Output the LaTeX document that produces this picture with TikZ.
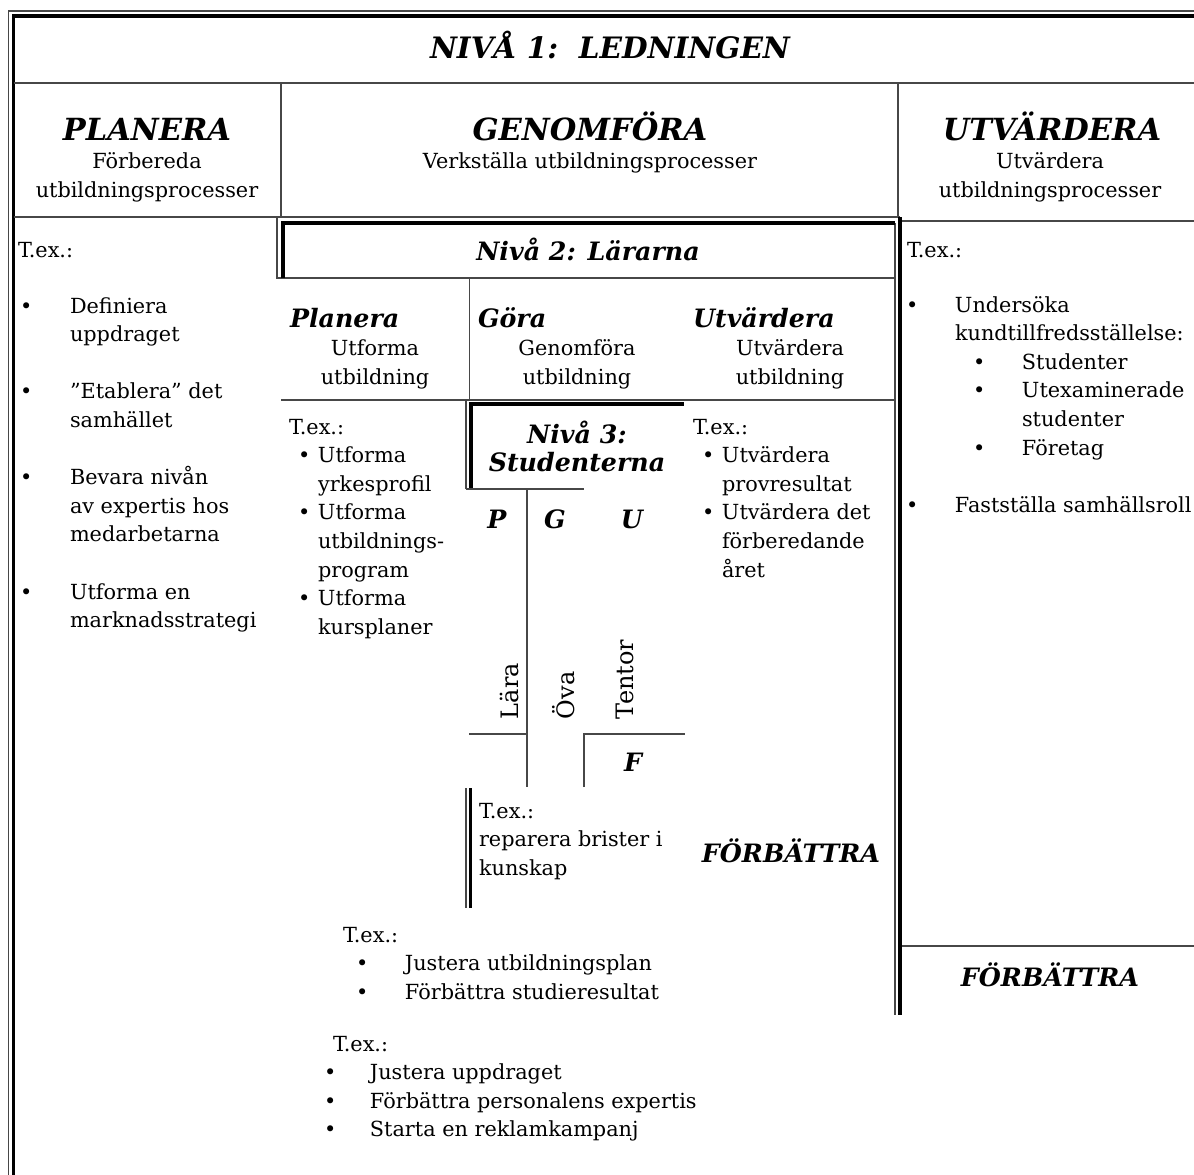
\documentclass[tikz,border=0pt]{standalone}
\usepackage{fontspec}
\setmainfont{DejaVu Serif}
\newcommand\fBody{\fontsize{20.8}{28.6}\selectfont}
\newcommand\fSub{\fontsize{20.8}{29.5}\selectfont}
\newcommand\fTurn{\fontsize{24}{28.6}\selectfont}
\newcommand\fHead{\fontsize{30.5}{34}\selectfont\bfseries\itshape}
\newcommand\fTitle{\fontsize{29.5}{34}\selectfont\bfseries\itshape}
\newcommand\fMid{\fontsize{25.3}{28}\selectfont\bfseries\itshape}
\begin{document}
\begin{tikzpicture}[x=1pt,y=-1pt,
  rule/.style={line width=1.1pt, draw=black!72},
  heavy/.style={line width=3.4pt, draw=black},
  lbl/.style={inner sep=0pt, outer sep=0pt, font=\fBody},
  sub/.style={inner sep=0pt, outer sep=0pt, font=\fSub, anchor=base},
  head/.style={inner sep=0pt, outer sep=0pt, font=\fHead, anchor=base},
  mid/.style={inner sep=0pt, outer sep=0pt, font=\fMid, anchor=base},
  turned/.style={inner sep=0pt, outer sep=0pt, font=\fTurn, rotate=90, anchor=base west}]
\fill[white] (0,0) rectangle (1194,1175);
\useasboundingbox (0,0) rectangle (1194,1175);

% outer double frame
\draw[rule] (8.5,1175) -- (8.5,11) -- (1194,11);
\draw[heavy] (13.7,1175) -- (13.7,16) -- (1194,16);
\draw[rule] (13.7,83) -- (1194,83);

% level 1 columns
\draw[rule] (281,83) -- (281,217);
\draw[rule] (898,83) -- (898,217);
\draw[rule] (13.7,217) -- (900,217);
\draw[rule] (902,221) -- (1194,221);
\draw[rule] (902,946) -- (1194,946);

% level 2 box
\draw[rule] (277,217) -- (277,278) -- (895,278);
\draw[rule] (895,223) -- (895,1015);
\draw[heavy] (283,278) -- (283,223) -- (895,223);
\draw[heavy] (900,217) -- (900,1015);
\draw[rule] (469.5,278) -- (469.5,400);
\draw[rule] (281,400) -- (466,400);

% level 3 box
\draw[rule] (466,489) -- (466,400) -- (895,400);
\draw[heavy] (471,489) -- (471,404) -- (684,404);
\draw[rule] (466,489) -- (584,489);
\draw[rule] (527,489) -- (527,787);
\draw[rule] (469,734) -- (527,734);
\draw[rule] (584,787) -- (584,734) -- (685,734);
\draw[rule] (466,788) -- (466,908);
\draw[heavy] (470.5,788) -- (470.5,908);

% level 1 texts
\node[head, font=\fTitle] (title) at (610,58) {NIVÅ 1:\ \ LEDNINGEN};
\node[head] (plan) at (147,140) {PLANERA};
\node[sub] (plansub) at (147,168) {\begin{tabular}[t]{@{}c@{}}Förbereda\\utbildningsprocesser\end{tabular}};
\node[head] (exec) at (590,140) {GENOMFÖRA};
\node[sub] (execsub) at (590,168) {Verkställa utbildningsprocesser};
\node[head] (eval) at (1052,140) {UTVÄRDERA};
\node[sub] (evalsub) at (1050,168) {\begin{tabular}[t]{@{}c@{}}Utvärdera\\utbildningsprocesser\end{tabular}};

\node[lbl, anchor=base west] (planex) at (18,257) {T.ex.:};
\node[lbl, anchor=base west] (planlist) at (20,313) {\begin{tabular}[t]{@{}p{50pt}@{}l@{}}
• & Definiera\\
  & uppdraget\\[28.6pt]
• & ”Etablera” det\\
  & samhället\\[28.6pt]
• & Bevara nivån\\
  & av expertis hos\\
  & medarbetarna\\[28.6pt]
• & Utforma en\\
  & marknadsstrategi
\end{tabular}};

\node[lbl, anchor=base west] (evalex) at (907,257) {T.ex.:};
\node[lbl, anchor=base west] (evallist) at (906,312) {\begin{tabular}[t]{@{}p{49pt}@{}p{67pt}@{}l@{}}
• & \multicolumn{2}{@{}l@{}}{Undersöka}\\
  & \multicolumn{2}{@{}l@{}}{kundtillfredsställelse:}\\
  & \hspace*{18pt}• & Studenter\\
  & \hspace*{18pt}• & Utexaminerade\\
  & & studenter\\
  & \hspace*{18pt}• & Företag\\[28.6pt]
• & \multicolumn{2}{@{}l@{}}{Fastställa samhällsroll}
\end{tabular}};

% level 2 texts
\node[mid] (teach) at (588,260) {Nivå 2: Lärarna};
\node[mid, anchor=base west] (tplan) at (290,327) {Planera};
\node[sub] (tplansub) at (375,355) {\begin{tabular}[t]{@{}c@{}}Utforma\\utbildning\end{tabular}};
\node[mid, anchor=base west] (tdo) at (478,327) {Göra};
\node[sub] (tdosub) at (577,355) {\begin{tabular}[t]{@{}c@{}}Genomföra\\utbildning\end{tabular}};
\node[mid, anchor=base west] (teval) at (693,327) {Utvärdera};
\node[sub] (tevalsub) at (790,355) {\begin{tabular}[t]{@{}c@{}}Utvärdera\\utbildning\end{tabular}};

\node[lbl, anchor=base west] (tplanlist) at (289,434) {\begin{tabular}[t]{@{}p{29pt}@{}l@{}}
\multicolumn{2}{@{}l@{}}{T.ex.:}\\
\hspace*{9pt}• & Utforma\\
  & yrkesprofil\\
\hspace*{9pt}• & Utforma\\
  & utbildnings-\\
  & program\\
\hspace*{9pt}• & Utforma\\
  & kursplaner
\end{tabular}};
\node[lbl, anchor=base west] (tevallist) at (693,434) {\begin{tabular}[t]{@{}p{29pt}@{}l@{}}
\multicolumn{2}{@{}l@{}}{T.ex.:}\\
\hspace*{9pt}• & Utvärdera\\
  & provresultat\\
\hspace*{9pt}• & Utvärdera det\\
  & förberedande\\
  & året
\end{tabular}};

% level 3 texts
\node[mid] (stud) at (577,443) {\begin{tabular}[t]{@{}c@{}}Nivå 3:\\Studenterna\end{tabular}};
\node[mid] (sp) at (497,528) {P};
\node[mid] (sg) at (555,528) {G};
\node[mid] (su) at (632,528) {U};
\node[mid] (sf) at (633,771) {F};
\node[turned] (learn) at (518,719) {Lära};
\node[turned] (practice) at (574,719) {Öva};
\node[turned] (exams) at (633,719) {Tentor};
\node[lbl, anchor=base west] (repair) at (479,818) {\begin{tabular}[t]{@{}l@{}}T.ex.:\\reparera brister i\\kunskap\end{tabular}};
\node[mid] (improve3) at (791,862) {FÖRBÄTTRA};

% improvement lists
\node[lbl, anchor=base west] (improve2list) at (343,942) {\begin{tabular}[t]{@{}p{62pt}@{}l@{}}
\multicolumn{2}{@{}l@{}}{T.ex.:}\\
\hspace*{13pt}• & Justera utbildningsplan\\
\hspace*{13pt}• & Förbättra studieresultat
\end{tabular}};
\node[mid] (improve2) at (1050,986) {FÖRBÄTTRA};
\node[lbl, anchor=base west] (improve1list) at (324,1051) {\begin{tabular}[t]{@{}p{46pt}@{}l@{}}
\multicolumn{2}{@{}l@{}}{\hspace*{9pt}T.ex.:}\\
• & Justera uppdraget\\
• & Förbättra personalens expertis\\
• & Starta en reklamkampanj
\end{tabular}};
\end{tikzpicture}
\end{document}
